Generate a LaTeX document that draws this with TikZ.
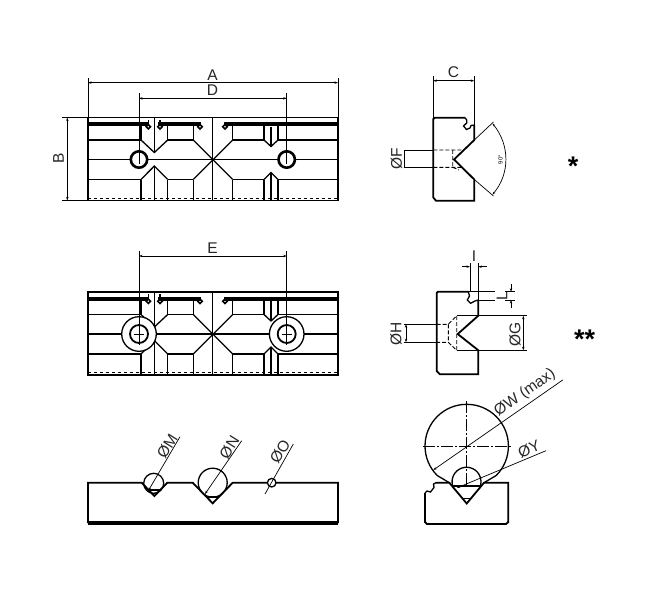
\documentclass[tikz,border=0pt]{standalone}
\usepackage{fontspec}
\setmainfont{Liberation Sans}
\usetikzlibrary{arrows.meta}
\tikzset{
	outline/.style={line width=1.8pt, black},
	heavy/.style={line width=4.2pt, black},
	edge/.style={line width=1.3pt, black},
	thinline/.style={line width=0.7pt, black},
	hidden/.style={line width=0.9pt, black, dash pattern=on 4pt off 2pt},
	centre/.style={line width=0.7pt, black, dash pattern=on 12pt off 2pt on 2pt off 2pt},
	dimline/.style={line width=0.7pt, black, {Stealth[length=3.5pt,width=2.4pt]}-{Stealth[length=3.5pt,width=2.4pt]}},
	leader/.style={line width=0.7pt, black, -{Stealth[length=3.5pt,width=2.4pt]}},
	dimlabel/.style={font=\fontsize{15.5}{15.5}\selectfont, text=black!85, inner sep=0pt},
	starlabel/.style={font=\bfseries\fontsize{27}{27}\selectfont, inner sep=0pt}
}
\begin{document}
\begin{tikzpicture}[x=1pt,y=-1pt]
	\useasboundingbox (0,0) rectangle (650,600);
	% the two front views
	\foreach \topy in {117.5,292} {
		\begin{scope}[shift={(0,\topy)}]
			\draw[outline] (88,0) rectangle (338,83);
			\draw[thinline, dashed] (88,80.5) -- (338,80.5);
			% heavy slot line
			\draw[heavy] (88,6.8) -- (148,6.8) (158,6.8) -- (201,6.8) (224,6.8) -- (338,6.8);
			\foreach \groovex in {148.3,160,200,225} {
				\draw[line width=1.6pt] (\groovex-2.2,9.2) -- (\groovex,7) -- (\groovex+2.2,9.2) -- (\groovex,11.4) -- cycle;
			}
			% horizontals
			\draw[edge] (88,22.5) -- (141,22.5) (167.7,22.5) -- (193.3,22.5) (232.7,22.5) -- (264,22.5) (278,22.5) -- (338,22.5);
			\draw[edge] (88,62) -- (141,62) (167.7,62) -- (193.3,62) (232.7,62) -- (264,62) (278,62) -- (338,62);
			\draw[edge] (88,42) -- (338,42);
			% verticals
			\draw[edge] (212.7,0) -- (212.7,83);
			\draw[edge] (154.3,0) -- (154.3,35) (154.3,48.5) -- (154.3,83);
			\draw[edge] (148.5,2) -- (148.5,7) (160,2) -- (160,7);
			\draw[edge] (141,8) -- (141,22.5) (141,62) -- (141,83);
			\draw[edge] (167.7,8) -- (167.7,22.5) (167.7,62) -- (167.7,83);
			\draw[edge] (193.3,8) -- (193.3,22.5) (193.3,62) -- (193.3,83);
			\draw[edge] (232.7,8) -- (232.7,22.5) (232.7,62) -- (232.7,83);
			\draw[edge] (264,8) -- (264,22.5) (264,62) -- (264,83);
			\draw[edge] (278,8) -- (278,22.5) (278,62) -- (278,83);
			\draw[edge] (271,9) -- (271,29) (271,55) -- (271,83);
			% chamfers
			\draw[edge] (141,22.5) -- (154.3,35) -- (167.7,22.5);
			\draw[edge] (141,62) -- (154.3,48.5) -- (167.7,62);
			\draw[edge] (264,22.5) -- (271,29) -- (278,22.5);
			\draw[edge] (264,62) -- (271,55) -- (278,62);
			\draw[edge] (193.3,22.5) -- (232.7,62);
			\draw[edge] (232.7,22.5) -- (193.3,62);
		\end{scope}
	}
	% holes of the upper view
	\foreach \holex in {139,286.7} {
		\draw[line width=2.6pt, fill=white] (\holex,159.5) circle (8.2);
		% holes of the middle view
		\draw[edge, fill=white] (\holex,334) circle (17.3);
		\draw[line width=1.8pt, fill=white] (\holex,334) circle (9);
		\draw[thinline] (\holex,93) -- (\holex,164);
		\draw[thinline] (\holex,251) -- (\holex,345);
		\draw[thinline] (\holex-5,334) -- (\holex+5,334);
	}
	% dimensions of the upper view
	\draw[thinline] (88,78) -- (88,117.5) (338,78) -- (338,117.5);
	\draw[dimline] (88,82.7) -- (338,82.7);
	\draw[dimline] (139,98.3) -- (286.7,98.3);
	\draw[thinline] (62,117.5) -- (88,117.5) (62,200.5) -- (88,200.5);
	\draw[dimline] (67.3,117.5) -- (67.3,200.5);
	\node[dimlabel] (labelA) at (212.5,75) {A};
	\node[dimlabel] (labelD) at (212.5,90.5) {D};
	\node[dimlabel, rotate=90] (labelB) at (58.5,158.5) {B};
	\draw[dimline] (139,256) -- (286.7,256);
	\node[dimlabel] (labelE) at (212.5,248) {E};
	% upper section
	\draw[outline] (465,117.7) -- (435,117.7) -- (433.3,119) -- (433.3,197.5) -- (436,200.7) -- (474.3,200.7) -- (474.3,179.5) -- (454,159.5) -- (474.3,140) -- (474.3,125);
	\draw[edge] (465,117.7) -- (466.7,120) -- (466.7,123) -- (463.5,126) -- (466.5,129.5) -- (470,128) -- (471,125.5) -- (474.3,125);
	\draw[thinline] (433.3,76) -- (433.3,117.7) (474.3,76) -- (474.3,125);
	\draw[dimline] (433.3,80.7) -- (474.3,80.7);
	\node[dimlabel] (labelC) at (453.5,72) {C};
	\draw[thinline] (433.3,150) -- (404,150) -- (404,167.3) -- (433.3,167.3);
	\draw[hidden] (433.3,150) -- (463,150) (433.3,167.3) -- (463,167.3) (452.7,150) -- (452.7,167.3) (452.7,167.3) -- (459,170);
	\node[dimlabel, rotate=90] (labelF) at (396.5,158.5) {ØF};
	\draw[thinline] (474.3,140) -- (493.5,122) (474.3,179.5) -- (493.5,196);
	\draw[thinline, {Stealth[length=3pt,width=2pt]}-{Stealth[length=3pt,width=2pt]}] (492.5,123.5) .. controls (510,145) and (510,174) .. (492.5,194.5);
	\node[font=\fontsize{6}{6}\selectfont, rotate=90, inner sep=0pt] (labelAngle) at (500.5,159.5) {90°};
	\node[starlabel] (starOne) at (573,166) {*};
	% lower section
	\draw[outline] (468.3,291.7) -- (438,291.7) -- (436.7,293) -- (436.7,371) -- (440,374.3) -- (478.3,374.3) -- (478.3,350.3) -- (457.7,334) -- (478.3,315.7) -- (478.3,300);
	\draw[edge] (468.3,291.7) -- (469.5,296) -- (467.3,300) -- (470.5,303.3) -- (475,301) -- (478.3,300);
	\draw[thinline] (456.7,315.7) -- (526.7,315.7) (456.7,350.3) -- (526.7,350.3);
	\draw[dimline] (523.3,315.7) -- (523.3,350.3);
	\node[dimlabel, rotate=90] (labelG) at (515,334) {ØG};
	\draw[thinline] (436.7,324.3) -- (404,324.3) (436.7,342.3) -- (404,342.3);
	\draw[dimline] (406,324.3) -- (406,342.3);
	\node[dimlabel, rotate=90] (labelH) at (396,333.5) {ØH};
	\draw[hidden] (436.7,324.3) -- (448.3,324.3) -- (456.7,315.7) -- (456.7,350.3) -- (448.3,342.3) -- (436.7,342.3) (448.3,324.3) -- (448.3,342.3);
	\draw[thinline] (470,263) -- (470,291.7) (478.3,263) -- (478.3,300);
	\draw[leader] (461.7,266.7) -- (470,266.7);
	\draw[leader] (486.7,266.7) -- (478.3,266.7);
	\node[dimlabel] (labelI) at (474,256.5) {I};
	\draw[thinline] (468.3,291.7) -- (495,291.7) (478.3,300) -- (495,300);
	\draw[thinline] (505,291.7) -- (515,291.7) (505,300) -- (515,300);
	\draw[leader] (511,284.3) -- (511,291.7);
	\draw[leader] (511,308.3) -- (511,300);
	\node[dimlabel, rotate=90] (labelL) at (502,296.5) {L};
	\node[starlabel] (starTwo) at (584.5,339) {**};
	% bottom block
	\draw[outline] (88,523) -- (88,482.7) -- (141.7,482.7) -- (154.3,496) -- (167.3,482.7) -- (192.7,482.7) -- (212.7,503.3) -- (232.7,482.7) -- (338,482.7) -- (338,523);
	\draw[heavy] (88,523) -- (338,523);
	\draw[edge] (153.7,483.3) circle (10);
	\draw[edge] (212.7,482.7) circle (14.5);
	\draw[edge, fill=white] (271.7,482.7) circle (4.3);
	\draw[edge] (148,490) -- (160,490) (206,497) -- (219,497);
	\draw[leader] (180,436.7) -- (148.3,490.7);
	\draw[leader] (241.7,440.7) -- (205,494);
	\draw[thinline] (265,494) -- (293.3,444);
	\node[dimlabel, rotate=58] (labelM) at (167.3,446) {ØM};
	\node[dimlabel, rotate=58] (labelN) at (229.3,447.3) {ØN};
	\node[dimlabel, rotate=58] (labelO) at (280,451.7) {ØO};
	% prism with the round bars
	\draw[outline] (436,482.7) -- (449.3,482.7) -- (466.7,503.5) -- (484,482.7) -- (508.3,482.7) -- (508.3,522) -- (506,524) -- (427,524) -- (425,522) -- (425,493);
	\draw[edge] (436,482.7) -- (433.5,484) -- (434,487.5) -- (430.5,492) -- (427,491) -- (425,493);
	\draw[edge] (496.2,475.5) arc[start angle=45, end angle=-225, radius=41.7] -- (449.3,482.7);
	\draw[edge] (496.2,475.5) -- (484,482.7);
	\draw[edge] (454,489) arc[start angle=150, end angle=390, radius=14.5];
	\draw[edge] (452,486) -- (481,486) (461.7,498.3) -- (471.7,498.3);
	\draw[centre] (466.7,401) -- (466.7,485);
	\draw[centre] (423,446) -- (511,446);
	\draw[leader] (562.7,380) -- (433.3,470);
	\draw[leader] (546,450.7) -- (456.7,488);
	\node[dimlabel, rotate=35] (labelW) at (525,392.7) {ØW (max)};
	\node[dimlabel, rotate=23] (labelY) at (529,449.3) {ØY};
\end{tikzpicture}
\end{document}
